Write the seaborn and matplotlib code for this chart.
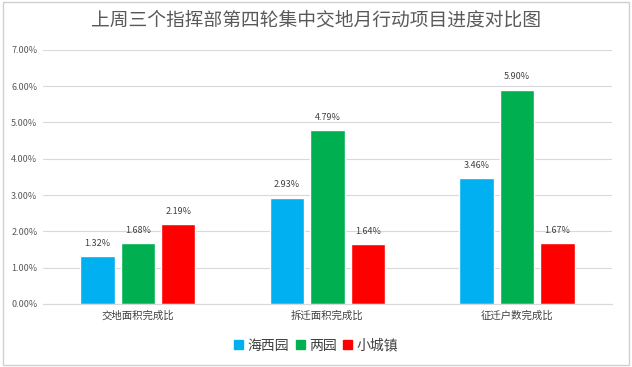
import pandas as pd
import seaborn as sns
import matplotlib.pyplot as plt
from matplotlib.patches import Rectangle
from matplotlib.ticker import FuncFormatter

# chart data
categories = ['交地面积完成比', '拆迁面积完成比', '征迁户数完成比']
series_names = ['海西园', '两园', '小城镇']
haixiyuan = [1.32, 2.93, 3.46]
liangyuan = [1.68, 4.79, 5.90]
xiaochengzhen = [2.19, 1.64, 1.67]
colors = ['#00B0F0', '#00B050', '#FF0000']

df = pd.DataFrame({
    'category': categories * 3,
    'series': [s for s in series_names for _ in categories],
    'value': haixiyuan + liangyuan + xiaochengzhen,
})

sns.set_style('white')
plt.rcParams['font.family'] = ['Noto Sans CJK SC', 'DejaVu Sans']

fig = plt.figure(figsize=(6.32, 3.67), dpi=100)
ax = fig.add_axes([0.068, 0.172, 0.900, 0.692])

sns.barplot(data=df, x='category', y='value', hue='series', palette=colors,
            saturation=1, width=0.64, gap=0.15, ax=ax, legend=False)

for cont in ax.containers:
    ax.bar_label(cont, labels=['%.2f%%' % v for v in cont.datavalues],
                 padding=6, fontsize=6.5, color='#404040')

ax.set_ylim(0, 7)
ax.set_yticks(range(0, 8))
ax.yaxis.set_major_formatter(FuncFormatter(lambda v, p: '%.2f%%' % v))
ax.grid(axis='y', color='#d9d9d9', linewidth=0.8)
ax.set_axisbelow(True)
for side in ['top', 'right', 'left']:
    ax.spines[side].set_visible(False)
ax.spines['bottom'].set_color('#d9d9d9')
ax.tick_params(axis='y', labelsize=6.5, colors='#595959', length=0, pad=4)
ax.tick_params(axis='x', labelsize=7.5, colors='#404040', length=0, pad=5)
ax.set_xlabel('')
ax.set_ylabel('')

fig.text(0.5, 0.945, '上周三个指挥部第四轮集中交地月行动项目进度对比图',
         ha='center', va='center', fontsize=13.5, color='#595959')

handles = [Rectangle((0, 0), 1, 1, color=c) for c in colors]
fig.legend(handles, series_names, loc='center', bbox_to_anchor=(0.5, 0.058),
           ncol=3, frameon=False, fontsize=10, handlelength=0.65, handleheight=0.65,
           handletextpad=0.3, columnspacing=0.5, labelcolor='#404040')

fig.add_artist(Rectangle((0.004, 0.006), 0.992, 0.988, transform=fig.transFigure,
                         fill=False, edgecolor='#d0d0d0', linewidth=1))

fig.savefig('out.png', dpi=100)
